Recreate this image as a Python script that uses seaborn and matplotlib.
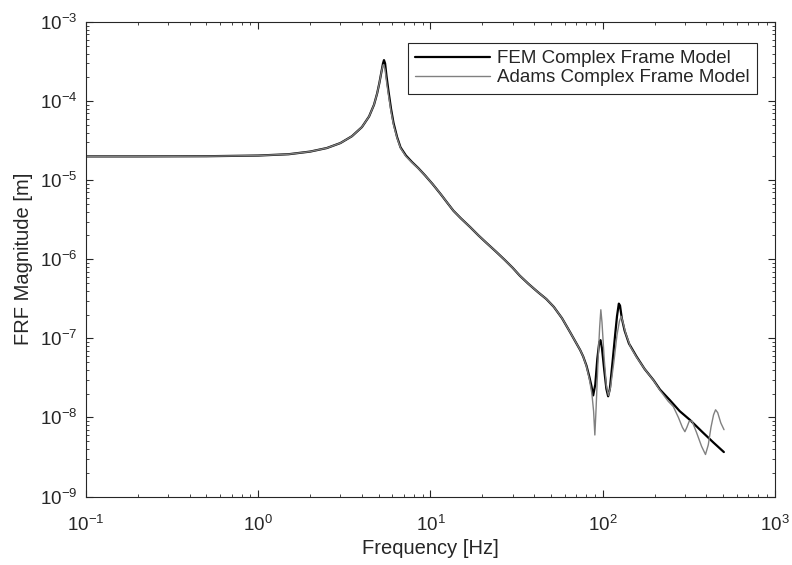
import numpy as np
import pandas as pd
import seaborn as sns
import matplotlib
matplotlib.use("Agg")
import matplotlib.pyplot as plt
from matplotlib.ticker import LogLocator, NullFormatter, LogFormatterSciNotation

# --- DATA ---
fem_freq = [0.1, 0.2, 0.5, 1.0, 1.5, 2.0, 2.5, 3.0, 3.5, 4.0, 4.4, 4.7, 4.9,
            5.05, 5.2, 5.3, 5.37, 5.45, 5.55, 5.7, 5.9, 6.1, 6.4, 6.7, 7.2,
            7.8, 8.5, 9.3, 10.3, 11.5, 12.5, 13.6, 15, 17, 19, 21.2, 24, 27,
            30, 33, 37, 42, 47, 52, 58, 64.6, 70, 74, 77, 80.5, 83.5, 86, 88,
            90.5, 93, 95.5, 97, 99, 102, 105, 107.5, 110, 114, 118, 121, 124,
            126, 129, 134, 142, 157, 175, 197, 215, 245, 280, 321, 380, 440,
            505]
fem_mag = [2.0e-5, 2.0e-5, 2.01e-5, 2.05e-5, 2.13e-5, 2.3e-5, 2.55e-5, 2.95e-5,
           3.6e-5, 4.7e-5, 6.4e-5, 9.0e-5, 1.25e-4, 1.7e-4, 2.4e-4, 3.0e-4,
           3.3e-4, 3.0e-4, 2.1e-4, 1.35e-4, 8.0e-5, 5.3e-5, 3.5e-5, 2.6e-5,
           2.05e-5, 1.7e-5, 1.42e-5, 1.15e-5, 8.9e-6, 6.6e-6, 5.2e-6, 4.1e-6,
           3.3e-6, 2.55e-6, 2.0e-6, 1.6e-6, 1.25e-6, 9.8e-7, 7.8e-7, 6.2e-7,
           4.9e-7, 3.85e-7, 3.15e-7, 2.5e-7, 1.8e-7, 1.2e-7, 8.8e-8, 7.1e-8,
           5.9e-8, 4.5e-8, 3.3e-8, 2.5e-8, 1.9e-8, 2.6e-8, 5.5e-8, 9.0e-8,
           9.5e-8, 7.5e-8, 4.0e-8, 2.3e-8, 1.85e-8, 2.3e-8, 5.0e-8, 1.1e-7,
           1.9e-7, 2.75e-7, 2.6e-7, 1.8e-7, 1.25e-7, 8.6e-8, 5.9e-8, 4.1e-8,
           2.97e-8, 2.25e-8, 1.66e-8, 1.2e-8, 9.3e-9, 6.5e-9, 4.8e-9, 3.65e-9]

adams_freq = [0.1, 0.2, 0.5, 1.0, 1.5, 2.0, 2.5, 3.0, 3.5, 4.0, 4.4, 4.7, 4.9,
              5.05, 5.2, 5.3, 5.35, 5.45, 5.55, 5.7, 5.9, 6.1, 6.4, 6.7, 7.2,
              7.8, 8.5, 9.3, 10.3, 11.5, 12.5, 13.6, 15, 17, 19, 21.2, 24, 27,
              30, 33, 37, 42, 47, 52, 58, 64.6, 70, 74, 77, 80.5, 83.5, 86.5,
              88.5, 90, 91.5, 94, 96, 97.5, 99, 102, 105, 108, 111, 116, 121,
              125, 128, 131, 136, 145, 157, 175, 197, 215, 240, 257, 275, 290,
              300, 308, 318, 330, 350, 375, 395, 410, 425, 440, 452, 465, 485,
              506]
adams_mag = [2.0e-5, 2.0e-5, 2.01e-5, 2.05e-5, 2.13e-5, 2.3e-5, 2.55e-5, 2.95e-5,
             3.6e-5, 4.7e-5, 6.4e-5, 9.0e-5, 1.25e-4, 1.7e-4, 2.4e-4, 2.85e-4,
             2.9e-4, 2.5e-4, 1.8e-4, 1.2e-4, 7.4e-5, 5.0e-5, 3.4e-5, 2.55e-5,
             2.0e-5, 1.68e-5, 1.41e-5, 1.15e-5, 8.9e-6, 6.6e-6, 5.2e-6, 4.1e-6,
             3.3e-6, 2.55e-6, 2.0e-6, 1.6e-6, 1.25e-6, 9.8e-7, 7.8e-7, 6.2e-7,
             4.9e-7, 3.85e-7, 3.15e-7, 2.5e-7, 1.8e-7, 1.2e-7, 8.8e-8, 7.1e-8,
             5.9e-8, 4.4e-8, 3.1e-8, 2.0e-8, 1.2e-8, 6.0e-9, 1.3e-8, 5.5e-8,
             1.4e-7, 2.3e-7, 1.6e-7, 5.5e-8, 2.5e-8, 1.9e-8, 2.4e-8, 5.0e-8,
             1.1e-7, 1.65e-7, 1.9e-7, 1.6e-7, 1.15e-7, 7.8e-8, 5.8e-8, 4.1e-8,
             2.95e-8, 2.2e-8, 1.6e-8, 1.37e-8, 1.0e-8, 7.5e-9, 6.6e-9, 7.5e-9,
             9.0e-9, 9.0e-9, 6.5e-9, 4.3e-9, 3.4e-9, 4.5e-9, 7.5e-9, 1.08e-8,
             1.25e-8, 1.15e-8, 8.5e-9, 7.0e-9]

labels = ["FEM Complex Frame Model", "Adams Complex Frame Model"]
x_ticks = [1e-1, 1e0, 1e1, 1e2, 1e3]
y_ticks = [1e-9, 1e-8, 1e-7, 1e-6, 1e-5, 1e-4, 1e-3]

# --- STYLE ---
sns.set_style("ticks")
plt.rcParams['font.family'] = ['Liberation Sans', 'DejaVu Sans']
axis_col = (0.15, 0.15, 0.15)

fig = plt.figure(figsize=(7.92, 5.65), dpi=100)
ax = fig.add_axes([0.1086, 0.1212, 0.8699, 0.8398])

fem_df = pd.DataFrame({'freq': fem_freq, 'mag': fem_mag})
adams_df = pd.DataFrame({'freq': adams_freq, 'mag': adams_mag})

sns.lineplot(data=fem_df, x='freq', y='mag', ax=ax, color='black', linewidth=1.6,
             sort=False, estimator=None, label=labels[0])
sns.lineplot(data=adams_df, x='freq', y='mag', ax=ax, color=(0.5, 0.5, 0.5),
             linewidth=1.0, sort=False, estimator=None, label=labels[1])

ax.set_xscale('log')
ax.set_yscale('log')
ax.set_xticks(x_ticks)
ax.set_yticks(y_ticks)
ax.xaxis.set_major_formatter(LogFormatterSciNotation())
ax.yaxis.set_major_formatter(LogFormatterSciNotation())
ax.set_xlim(0.1, 1000)
ax.set_ylim(1e-9, 1e-3)

ax.xaxis.set_minor_locator(LogLocator(base=10, subs=np.arange(2, 10), numticks=20))
ax.yaxis.set_minor_locator(LogLocator(base=10, subs=np.arange(2, 10), numticks=20))
ax.xaxis.set_minor_formatter(NullFormatter())
ax.yaxis.set_minor_formatter(NullFormatter())

ax.tick_params(which='both', direction='in', top=True, right=True,
               color=axis_col, labelcolor=axis_col, labelsize=13.5)
ax.tick_params(which='major', length=5, width=0.8)
ax.tick_params(which='minor', length=2.5, width=0.6)
ax.tick_params(axis='x', which='major', pad=13)
ax.tick_params(axis='y', which='major', pad=6)
for sp in ax.spines.values():
    sp.set_color(axis_col)
    sp.set_linewidth(0.8)

ax.set_xlabel('Frequency [Hz]', fontsize=14.5, color=axis_col, labelpad=3)
ax.set_ylabel('FRF Magnitude [m]', fontsize=14.5, color=axis_col, labelpad=5)

leg = ax.legend(loc='upper right', bbox_to_anchor=(0.9739, 0.9564), borderaxespad=0,
                fancybox=False, framealpha=1, edgecolor=axis_col, fontsize=13.5,
                handlelength=4.0, handletextpad=0.35, labelspacing=0.1,
                borderpad=0.4)
leg.get_frame().set_linewidth(0.8)

fig.savefig('out.png', dpi=100)
plt.close(fig)
